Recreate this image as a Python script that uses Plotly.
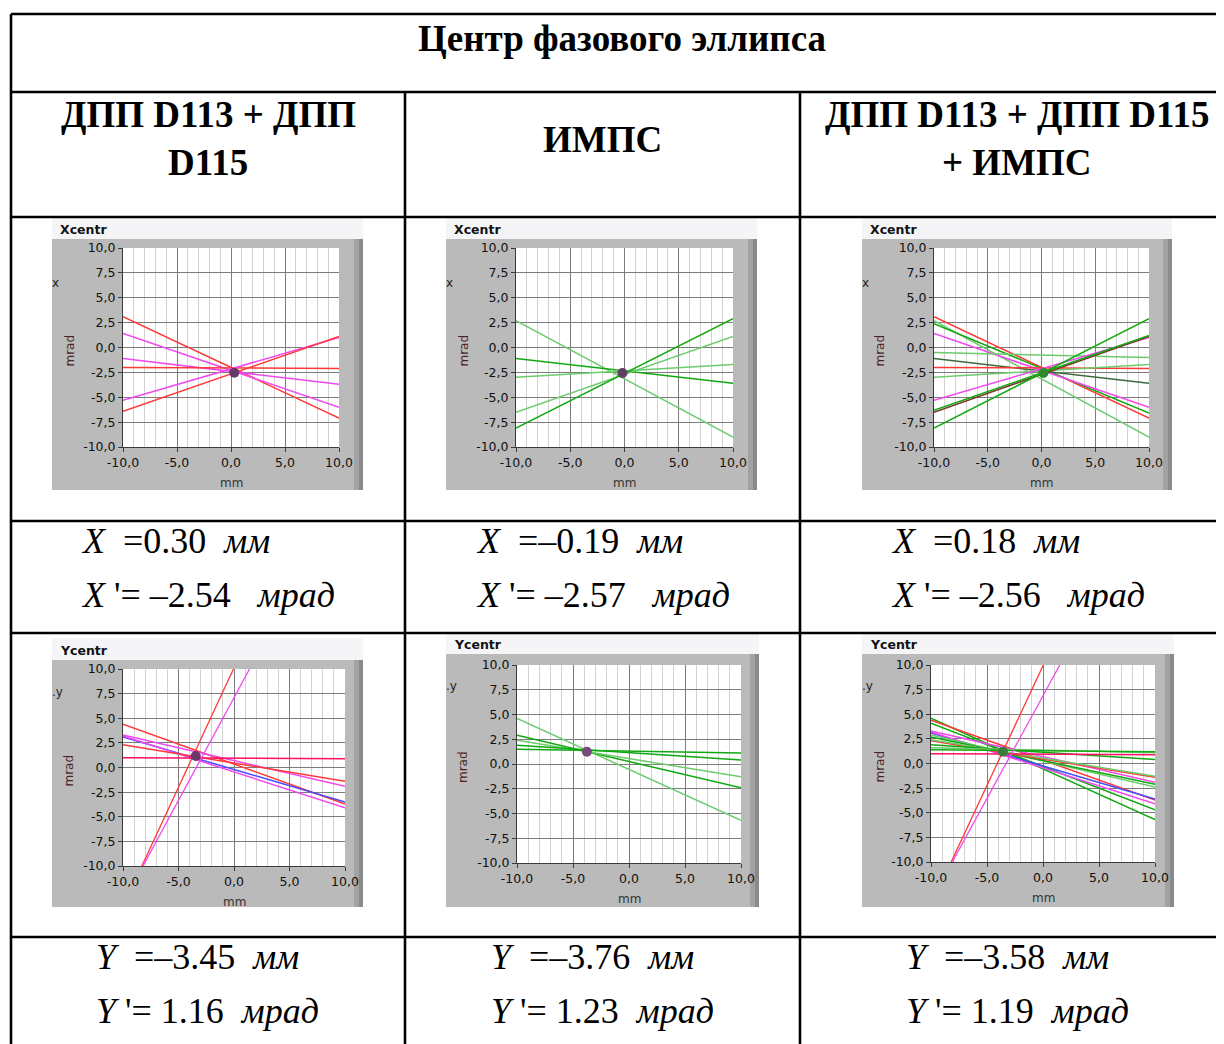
import plotly.graph_objects as go

# page has an 8px body margin: the figure starts at (8, 8) and fills the rest of the viewport
OFF = 8
W, H = 1224 - OFF, 1044 - OFF

# ---------------- data ----------------
MAIN_TITLE = "Центр фазового эллипса"
COLUMN_TITLES = [["ДПП D113 + ДПП", "D115"], ["ИМПС"], ["ДПП D113 + ДПП D115", "+ ИМПС"]]

CENTER_X = [0.30, -0.19, 0.18]     # mm
CENTER_XP = [-2.54, -2.57, -2.56]  # mrad
CENTER_Y = [-3.45, -3.76, -3.58]   # mm
CENTER_YP = [1.16, 1.23, 1.19]     # mrad

# lines: value at x=-10 and at x=+10
X_DPP_LEFT = [3.1, 1.4, -1.1, -2.0, -5.3, -6.4]
X_DPP_RIGHT = [-7.1, -6.0, -3.7, -2.1, 1.0, 1.1]

X_IMPS_LEFT = [2.7, -1.1, -3.0, -6.5, -8.1]
X_IMPS_RIGHT = [-9.0, -3.6, -1.7, 1.1, 2.9]

X_ALL_LEFT = [3.1, 2.7, 2.4, 1.4, -0.5, -1.1, -2.0, -3.0, -5.3, -6.5, -6.3, -8.1]
X_ALL_RIGHT = [-7.1, -9.0, -6.6, -6.0, -1.0, -3.6, -2.1, -1.7, 1.0, 1.1, 1.2, 2.9]

Y_DPP_LEFT = [4.4, 3.3, 3.1, 3.2, 2.3, 1.0]
Y_DPP_RIGHT = [-3.7, -1.9, -3.5, -4.1, -1.4, 0.9]
# steep lines: x where they cross y=-10 and y=+10
Y_DPP_STEEP_BOTTOM = [-8.3, -8.2]
Y_DPP_STEEP_TOP = [-0.05, 1.4]

Y_IMPS_LEFT = [4.6, 2.9, 2.4, 1.9, 1.5]
Y_IMPS_RIGHT = [-5.7, -2.4, -1.3, 0.4, 1.1]

Y_ALL_LEFT = [4.6, 4.4, 4.1, 3.3, 3.1, 3.2, 2.9, 2.7, 2.3, 2.4, 1.9, 1.6, 1.0, 1.4]
Y_ALL_RIGHT = [-5.7, -3.7, -4.7, -1.9, -3.6, -4.1, -2.4, -2.1, -1.4, -1.3, 0.4, 1.1, 0.9, 1.2]
Y_ALL_STEEP_BOTTOM = [-8.2, -8.1]
Y_ALL_STEEP_TOP = [0.03, 1.5]

AXIS_TICKS_X = [-10, -5, 0, 5, 10]
AXIS_TICKTEXT_X = ["-10,0", "-5,0", "0,0", "5,0", "10,0"]
AXIS_TICKS_Y = [-10, -7.5, -5, -2.5, 0, 2.5, 5, 7.5, 10]
AXIS_TICKTEXT_Y = ["-10,0", "-7,5", "-5,0", "-2,5", "0,0", "2,5", "5,0", "7,5", "10,0"]

# ---------------- styles ----------------
RED = "#ff3838"
MAG = "#f048f0"
PINK = "#ff1060"
BLUE = "#4848ff"
GREEN = "#10a810"
LGREEN = "#6ccc6c"
BROWN = "#7a3a2a"
DKGREEN = "#3d6a3d"

X_DPP_COLORS = [RED, MAG, MAG, RED, MAG, RED]
X_IMPS_COLORS = [LGREEN, GREEN, LGREEN, LGREEN, GREEN]
X_ALL_COLORS = [RED, LGREEN, GREEN, MAG, LGREEN, DKGREEN, RED, LGREEN, MAG, BROWN, GREEN, GREEN]
Y_DPP_COLORS = [RED, MAG, BLUE, MAG, RED, PINK]
Y_IMPS_COLORS = [LGREEN, GREEN, LGREEN, GREEN, GREEN]
Y_ALL_COLORS = [GREEN, RED, GREEN, MAG, BLUE, MAG, LGREEN, GREEN, RED, LGREEN, GREEN, LGREEN, PINK, GREEN]
STEEP_COLORS = [RED, MAG]
DOT_COLORS = ["#6a3868", "#5e4060", "#2e8a2e", "#6a3868", "#7a4a78", "#3a7a3a"]

SERIF = "Liberation Serif, Times New Roman, serif"
SANS = "DejaVu Sans, Verdana, sans-serif"

# panel geometry in reference pixels: frame (x0,x1,ytitle,yframe,ybottom), plot (x0,x1,y0,y1)
PANELS = [
    dict(frame=(52, 363, 218, 239, 490), plot=(123, 339, 248, 447), title="Xcentr", side="x"),
    dict(frame=(446, 757, 218, 239, 490), plot=(516, 733, 248, 447), title="Xcentr", side="x"),
    dict(frame=(862, 1172, 218, 239, 490), plot=(934, 1149, 248, 447), title="Xcentr", side="x"),
    dict(frame=(52, 363, 638, 660, 907), plot=(123, 345, 669, 866), title="Ycentr", side="y"),
    dict(frame=(446, 759, 633, 654, 907), plot=(517, 741, 665, 863), title="Ycentr", side="y"),
    dict(frame=(862, 1174, 633, 654, 907), plot=(931, 1155, 665, 862), title="Ycentr", side="y"),
]

LINESETS = [
    (X_DPP_LEFT, X_DPP_RIGHT, X_DPP_COLORS, [], [], []),
    (X_IMPS_LEFT, X_IMPS_RIGHT, X_IMPS_COLORS, [], [], []),
    (X_ALL_LEFT, X_ALL_RIGHT, X_ALL_COLORS, [], [], []),
    (Y_DPP_LEFT, Y_DPP_RIGHT, Y_DPP_COLORS, Y_DPP_STEEP_BOTTOM, Y_DPP_STEEP_TOP, STEEP_COLORS),
    (Y_IMPS_LEFT, Y_IMPS_RIGHT, Y_IMPS_COLORS, [], [], []),
    (Y_ALL_LEFT, Y_ALL_RIGHT, Y_ALL_COLORS, Y_ALL_STEEP_BOTTOM, Y_ALL_STEEP_TOP, STEEP_COLORS),
]
CENTERS = [(CENTER_X[i], CENTER_XP[i]) for i in range(3)] + [(CENTER_Y[i], CENTER_YP[i]) for i in range(3)]


def fx(x):
    return (x - OFF) / W


def fy(y):
    return 1 - (y - OFF) / H


fig = go.Figure()
shapes = []
annotations = []


def ann(x, y, text, size, family=SERIF, color="black", xanchor="center",
        yanchor="middle", textangle=0):
    annotations.append(dict(x=fx(x), y=fy(y), xref="paper", yref="paper", text=text,
                            showarrow=False, xanchor=xanchor, yanchor=yanchor,
                            textangle=textangle, borderpad=0,
                            font=dict(family=family, size=size, color=color)))


def rect(x0, y0, x1, y1, fill):
    shapes.append(dict(type="rect", xref="paper", yref="paper", x0=fx(x0), x1=fx(x1),
                       y0=fy(y0), y1=fy(y1), fillcolor=fill, line=dict(width=0), layer="below"))


def hline(y, x0, x1):
    shapes.append(dict(type="line", xref="paper", yref="paper", x0=fx(x0), x1=fx(x1),
                       y0=fy(y), y1=fy(y), line=dict(color="black", width=2.6), layer="above"))


def vline(x, y0, y1):
    shapes.append(dict(type="line", xref="paper", yref="paper", x0=fx(x), x1=fx(x),
                       y0=fy(y0), y1=fy(y1), line=dict(color="black", width=2.6), layer="above"))


# ---------------- panels ----------------
for i, p in enumerate(PANELS):
    k = i + 1
    xa = "x" if k == 1 else f"x{k}"
    ya = "y" if k == 1 else f"y{k}"
    fx0, fx1, ft, ff, fb = p["frame"]
    px0, px1, py0, py1 = p["plot"]
    # frame
    rect(fx0, ft, fx1, ff, "#f5f5f8")
    rect(fx0, ff, fx1, fb, "#bababa")
    rect(fx1 - 9, ff, fx1 - 4, fb, "#a2a2a2")
    rect(fx1 - 4, ff, fx1, fb, "#8a8a8a")
    rect(px0, py0, px1, py1, "white")

    ann(fx0 + 7, (ft + ff) / 2 + 1, f"<b>{p['title']}</b>", 12.5, SANS, "#111", xanchor="left")
    ann(fx0 - 1, ff + 44 if p["side"] == "x" else ff + 32, "x" if p["side"] == "x" else ".y",
        12, SANS, "#222", xanchor="left")
    ann(fx0 + 17, (py0 + py1) / 2 + 3, "mrad", 12, SANS, "#4a2424", textangle=-90)
    ann((px0 + px1) / 2, py1 + 36, "mm", 12, SANS, "#333")

    axis_common = dict(range=[-10, 10], fixedrange=True, zeroline=False, showline=True,
                       linecolor="#3a3a3a", linewidth=1, ticks="outside", ticklen=4,
                       tickcolor="#3a3a3a", automargin=False,
                       tickfont=dict(family=SANS, size=12.5, color="#101010"),
                       showgrid=True, gridcolor="#7c7c7c", gridwidth=1)
    fig.layout[f"xaxis{'' if k == 1 else k}"] = dict(
        axis_common, domain=[fx(px0), fx(px1)], anchor=ya,
        tickvals=AXIS_TICKS_X, ticktext=AXIS_TICKTEXT_X,
        minor=dict(dtick=1, tick0=0, showgrid=True, gridcolor="#d2d2d2", gridwidth=1))
    fig.layout[f"yaxis{'' if k == 1 else k}"] = dict(
        axis_common, domain=[fy(py1), fy(py0)], anchor=xa,
        tickvals=AXIS_TICKS_Y, ticktext=AXIS_TICKTEXT_Y)

    left, right, cols, sb, st, scol = LINESETS[i]
    for yl, yr, c in zip(left, right, cols):
        fig.add_trace(go.Scatter(x=[-10, 10], y=[yl, yr], mode="lines", xaxis=xa, yaxis=ya,
                                 line=dict(color=c, width=1.5), showlegend=False, hoverinfo="skip"))
    for xb, xt, c in zip(sb, st, scol):
        fig.add_trace(go.Scatter(x=[xb, xt], y=[-10, 10], mode="lines", xaxis=xa, yaxis=ya,
                                 line=dict(color=c, width=1.3), showlegend=False, hoverinfo="skip"))
    cx, cy = CENTERS[i]
    fig.add_trace(go.Scatter(x=[cx], y=[cy], mode="markers", xaxis=xa, yaxis=ya,
                             marker=dict(size=10, color=DOT_COLORS[i]), showlegend=False))

# ---------------- table ----------------
for yy in [14, 92, 217, 521, 633, 937]:
    hline(yy, 11, 1226)
vline(11, 14, 1046)
vline(405, 92, 1046)
vline(800, 92, 1046)

ann(622, 38, f"<b>{MAIN_TITLE}</b>", 37)
col_centers = [208, 602, 1017]
for c, lines in zip(col_centers, COLUMN_TITLES):
    if len(lines) == 2:
        ann(c, 114, f"<b>{lines[0]}</b>", 37)
        ann(c, 162, f"<b>{lines[1]}</b>", 37)
    else:
        ann(c, 139, f"<b>{lines[0]}</b>", 37)

NB = "\u00a0"


def num(v):
    s = f"{v:.2f}"
    return s.replace("-", "–")


x_text_left = [80, 475, 890]
y_text_left = [95, 490, 905]
for j in range(3):
    ann(x_text_left[j], 541, f"<i>X</i>{NB}{NB}={num(CENTER_X[j])}{NB}{NB}<i>мм</i>", 36, xanchor="left")
    ann(x_text_left[j], 595, f"<i>X</i>{NB}'={NB}{num(CENTER_XP[j])}{NB * 3}<i>мрад</i>", 36, xanchor="left")
    ann(y_text_left[j], 957, f"<i>Y</i>{NB}{NB}={num(CENTER_Y[j])}{NB}{NB}<i>мм</i>", 36, xanchor="left")
    ann(y_text_left[j], 1011, f"<i>Y</i>{NB}'={NB}{num(CENTER_YP[j])}{NB * 2}<i>мрад</i>", 36, xanchor="left")

fig.update_layout(width=W, height=H, margin=dict(l=0, r=0, t=0, b=0, autoexpand=False),
                  paper_bgcolor="white", plot_bgcolor="rgba(0,0,0,0)",
                  showlegend=False, shapes=shapes, annotations=annotations)

fig.write_html("out.html")
